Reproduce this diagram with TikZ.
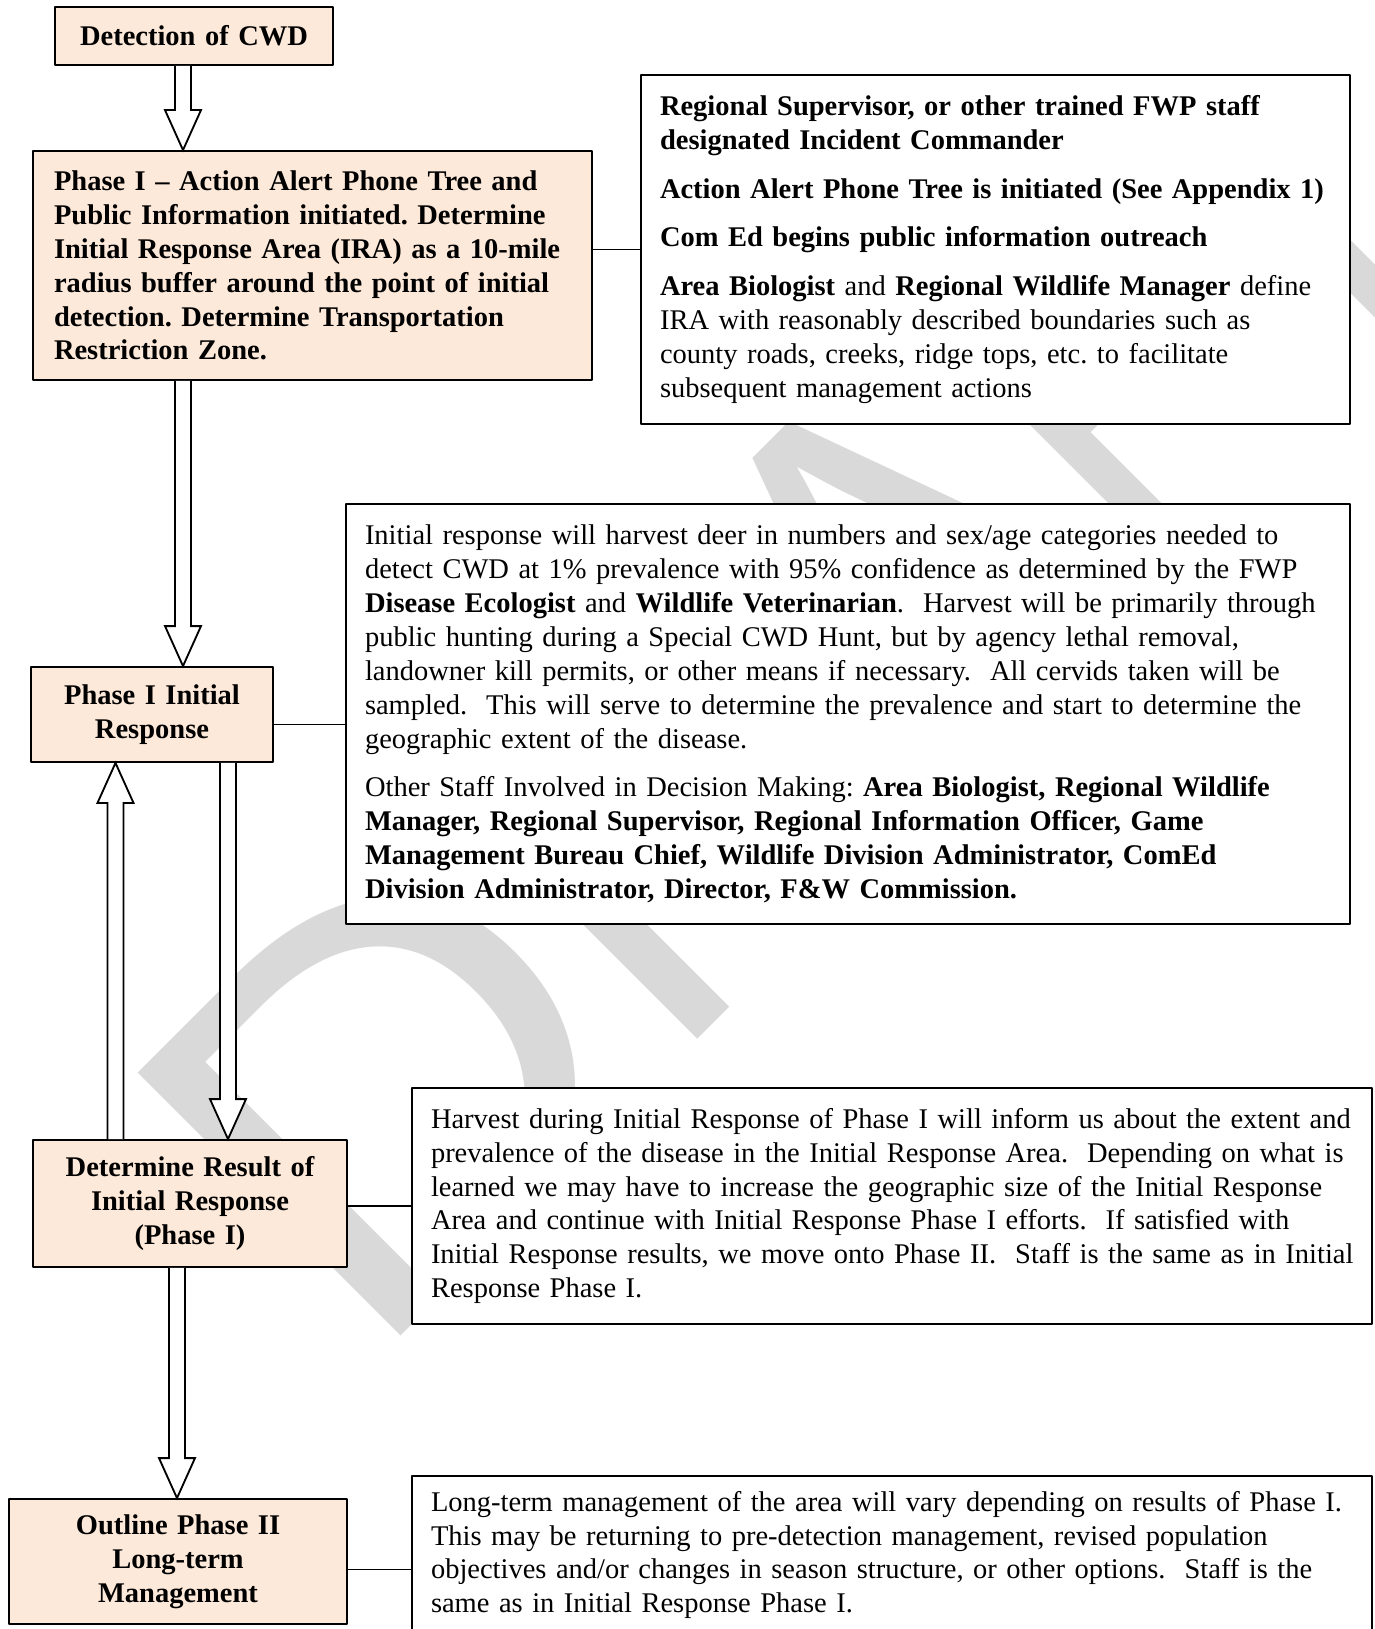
\documentclass[tikz,border=0pt]{standalone}
\usepackage{graphicx}
\usepackage{fontspec}
\setmainfont{Liberation Serif}
\newfontfamily\wmfont{Liberation Sans}
\usetikzlibrary{calc}
\frenchspacing
\hyphenpenalty=10000
\exhyphenpenalty=10000

\definecolor{peach}{RGB}{253,233,217}
\definecolor{wmgray}{RGB}{217,217,217}
\newcommand{\px}{0.407pt}
% hollow block arrow: start, tip, direction (1 down, -1 up)
\newcommand{\blockarrow}[3]{%
  \draw[line width=0.75pt, line join=miter, fill=white]
    ($(#1)+(-8,0)$) -- ($(#2)+(-8,-40*#3)$) -- ($(#2)+(-18,-40*#3)$) -- (#2)
    -- ($(#2)+(18,-40*#3)$) -- ($(#2)+(8,-40*#3)$) -- ($(#1)+(8,0)$);}

\begin{document}
\begin{tikzpicture}[x=\px, y=-\px, line join=round,
  phase/.style={draw, fill=peach, line width=0.75pt, align=center, inner sep=0pt, font=\fontsize{11.6}{13.8}\selectfont\bfseries},
  note/.style={draw, fill=white, line width=0.75pt, align=left, inner sep=0pt, font=\fontsize{11.6}{13.8}\selectfont},
  link/.style={line width=0.75pt},
  watermark/.style={text=wmgray, inner sep=0pt, font=\wmfont\fontsize{220}{220}\selectfont}]
\useasboundingbox (0,0) rectangle (1374,1629);

% watermark
\begin{scope}
\clip (0,75) rectangle (1374,1629);
\node[watermark, anchor=base west, rotate=45] (wm) at (366,1371) {\scalebox{1.1}[1]{D}\scalebox{0.9}[1]{RA}\scalebox{0.75}[1]{FT}};
\end{scope}

% phases
\node[phase, minimum width=278*\px, minimum height=58*\px, text width=260*\px] (detect) at (194,36) {Detection of CWD};
\node[phase, align=left, minimum width=559*\px, minimum height=229*\px, text width=517*\px] (alert) at (312.5,265.5)
  {Phase I – Action Alert Phone Tree and\\ Public Information initiated. Determine\\ Initial Response Area (IRA) as a 10-mile\\ radius buffer around the point of initial\\ detection. Determine Transportation\\ Restriction Zone.};
\node[phase, minimum width=242*\px, minimum height=95*\px, text width=230*\px] (initial) at (152,714.5) {Phase I Initial\\ Response};
\node[phase, minimum width=314*\px, minimum height=127*\px, text width=300*\px] (result) at (190,1203.5) {Determine Result of\\ Initial Response\\ (Phase I)};
\node[phase, minimum width=338*\px, minimum height=125*\px, text width=320*\px] (outline) at (178,1561.5) {Outline Phase II\\ Long-term\\ Management};

% notes
\node[note, minimum width=709*\px, minimum height=349*\px, text width=671*\px] (staff) at (995.5,249.5)
  {\textbf{Regional Supervisor, or other trained FWP staff}\\ \textbf{designated Incident Commander}\\[6pt]
   \mbox{\textbf{Action Alert Phone Tree is initiated (See Appendix 1)}}\\[6pt]
   \textbf{Com Ed begins public information outreach}\\[6pt]
   \textbf{Area Biologist} and \textbf{Regional Wildlife Manager} define\\ IRA with reasonably described boundaries such as\\ county roads, creeks, ridge tops, etc. to facilitate\\ subsequent management actions};
\node[note, minimum width=1004*\px, minimum height=420*\px, text width=966*\px] (harvest) at (848,714)
  {Initial response will harvest deer in numbers and sex/age categories needed to\\
   detect CWD at 1\% prevalence with 95\% confidence as determined by the FWP\\
   \mbox{\textbf{Disease Ecologist} and \textbf{Wildlife Veterinarian}.~ Harvest will be primarily through}\\
   public hunting during a Special CWD Hunt, but by agency lethal removal,\\
   landowner kill permits, or other means if necessary.~ All cervids taken will be\\
   \mbox{sampled.~ This will serve to determine the prevalence and start to determine the}\\
   geographic extent of the disease.\\[6pt]
   Other Staff Involved in Decision Making: \textbf{Area Biologist, Regional Wildlife}\\
   \textbf{Manager, Regional Supervisor, Regional Information Officer, Game}\\
   \textbf{Management Bureau Chief, Wildlife Division Administrator, ComEd}\\
   \textbf{Division Administrator, Director, F\&W Commission.}};
\node[note, minimum width=960*\px, minimum height=236*\px, text width=922*\px] (extent) at (892,1206)
  {\mbox{Harvest during Initial Response of Phase I will inform us about the extent and}\\
   \mbox{prevalence of the disease in the Initial Response Area.~ Depending on what is}\\
   learned we may have to increase the geographic size of the Initial Response\\
   Area and continue with Initial Response Phase I efforts.~ If satisfied with\\
   \mbox{Initial Response results, we move onto Phase II.~ Staff is the same as in Initial}\\
   Response Phase I.};
\node[note, minimum width=960*\px, minimum height=158*\px, text width=922*\px] (longterm) at (892,1555)
  {\mbox{Long-term management of the area will vary depending on results of Phase I.}\\
   This may be returning to pre-detection management, revised population\\
   objectives and/or changes in season structure, or other options.~ Staff is the\\
   same as in Initial Response Phase I.};

% block arrows
\coordinate (ax1) at (183,0);
\coordinate (axu) at (115.5,0);
\coordinate (axd) at (228,0);
\coordinate (ax4) at (177,0);
\blockarrow{detect.south -| ax1}{alert.north -| ax1}{1}
\blockarrow{alert.south -| ax1}{initial.north -| ax1}{1}
\blockarrow{result.north -| axu}{initial.south -| axu}{-1}
\blockarrow{initial.south -| axd}{result.north -| axd}{1}
\blockarrow{result.south -| ax4}{outline.north -| ax4}{1}

% connectors
\draw[link] (staff.west -| alert.east) -- (staff.west);
\draw[link] (initial.east) ++(0,10) coordinate (c2) -- (c2 -| harvest.west);
\draw[link] (extent.west -| result.east) -- (extent.west);
\draw[link] (outline.east) ++(0,8) coordinate (c4) -- (c4 -| longterm.west);
\end{tikzpicture}
\end{document}
